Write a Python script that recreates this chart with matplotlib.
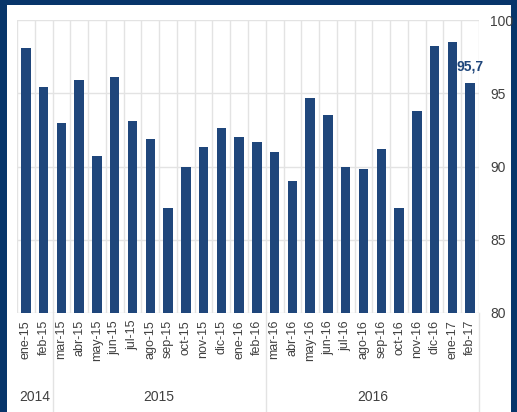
import matplotlib
matplotlib.use('Agg')
import matplotlib.pyplot as plt
import matplotlib.transforms as mtransforms

# datos
meses = ['ene-15', 'feb-15', 'mar-15', 'abr-15', 'may-15', 'jun-15', 'jul-15',
         'ago-15', 'sep-15', 'oct-15', 'nov-15', 'dic-15', 'ene-16', 'feb-16',
         'mar-16', 'abr-16', 'may-16', 'jun-16', 'jul-16', 'ago-16', 'sep-16',
         'oct-16', 'nov-16', 'dic-16', 'ene-17', 'feb-17']
valores = [98.1, 95.4, 93.0, 95.9, 90.7, 96.1, 93.1, 91.9, 87.2, 90.0, 91.3,
           92.6, 92.0, 91.7, 91.0, 89.0, 94.7, 93.5, 90.0, 89.8, 91.2, 87.2,
           93.8, 98.25, 98.5, 95.7]
anios = ['2014', '2015', '2016']
n_por_anio = [2, 12, 12]
etiqueta_final = '95,7'
yticks = [80, 85, 90, 95, 100]

azul_barra = '#1f467b'
azul_borde = '#07356a'
gris_texto = '#404040'
gris_grid = '#e3e3e3'

plt.rcParams['font.family'] = ['Liberation Sans', 'DejaVu Sans']

fig = plt.figure(figsize=(5.17, 4.12), dpi=100)
fig.patch.set_facecolor(azul_borde)

# fondo blanco dentro del marco azul
fondo = fig.add_axes([7 / 517, 0, 504 / 517, 407 / 412])
fondo.set_facecolor('white')
fondo.set_xticks([])
fondo.set_yticks([])
for s in fondo.spines.values():
    s.set_visible(False)

ax = fig.add_axes([17 / 517, 1 - 313 / 412, 462 / 517, 293 / 412])
ax.set_facecolor('white')

x = list(range(len(meses)))
ax.bar(x, valores, width=0.53, color=azul_barra, zorder=3)

ax.set_xlim(-0.5, len(meses) - 0.5)
ax.set_ylim(80, 100)

# eje y a la derecha
ax.yaxis.tick_right()
ax.set_yticks(yticks)
ax.set_yticklabels([str(v) for v in yticks])
ax.tick_params(axis='y', length=0, pad=8, labelsize=10, labelcolor=gris_texto)

ax.set_xticks(x)
ax.set_xticklabels(meses, rotation=90)
ax.tick_params(axis='x', which='major', length=0, pad=5, labelsize=9,
               labelcolor=gris_texto)
ax.set_xticks([i - 0.5 for i in range(len(meses) + 1)], minor=True)
ax.tick_params(axis='x', which='minor', length=0)

ax.grid(True, axis='y', color=gris_grid, linewidth=1, zorder=0)
ax.grid(True, axis='x', which='minor', color=gris_grid, linewidth=1, zorder=0)
ax.grid(False, axis='x', which='major')

for s in ax.spines.values():
    s.set_visible(False)

# etiqueta del ultimo valor
ax.annotate(etiqueta_final, (x[-1], valores[-1]), xytext=(0, 7),
            textcoords='offset points', ha='center', va='bottom',
            fontsize=10, fontweight='bold', color=azul_barra)

# separadores y etiquetas de anio
trans = mtransforms.blended_transform_factory(ax.transData, ax.transAxes)
inicio = -0.5
for anio, n in zip(anios, n_por_anio):
    fin = inicio + n
    ax.plot([fin, fin], [0, -0.34], transform=trans, color=gris_grid,
            linewidth=1, clip_on=False)
    ax.text((inicio + fin) / 2, -0.285, anio, transform=trans, ha='center',
            va='center', fontsize=10, color=gris_texto)
    inicio = fin

fig.savefig('out.png', dpi=100, facecolor=fig.get_facecolor())
